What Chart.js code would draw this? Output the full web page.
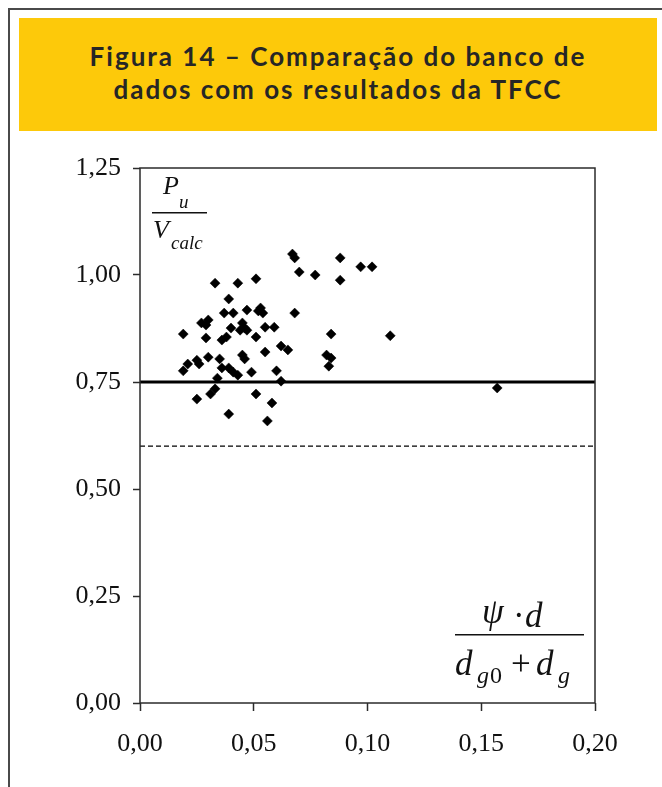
<!DOCTYPE html>
<html>
<head>
<meta charset="utf-8">
<script src="https://cdn.jsdelivr.net/npm/chart.js@4/dist/chart.umd.min.js"></script>
<style>
  html, body { margin: 0; padding: 0; background: #fff; }
  body { width: 662px; height: 787px; position: relative; overflow: hidden; }
  #frame { position: absolute; left: 8px; top: 8px; width: 700px; height: 800px; border: 2px solid #4a4a4a; box-sizing: border-box; }
  #title { position: absolute; left: 19px; top: 18px; width: 638px; height: 113px; background: #fdc90a;
    font-family: "Lato", "Open Sans", sans-serif; font-weight: 700; font-size: 26px; line-height: 33px;
    letter-spacing: 2px; color: #262626; text-align: center; box-sizing: border-box; padding-top: 22px; }
  #wrap { position: absolute; left: 0; top: 140px; width: 662px; height: 640px; }
</style>
</head>
<body>
<div id="frame"></div>
<div id="title">Figura 14 – Comparação do banco de<br>dados com os resultados da TFCC</div>
<div id="wrap"><canvas id="chart"></canvas></div>
<script>
// x = psi*d/(dg0+dg), y = Pu/Vcalc
const ratioX = [
  0.033, 0.043, 0.051, 0.039, 0.037, 0.041, 0.047, 0.052, 0.053, 0.054,
  0.027, 0.029, 0.030, 0.040, 0.045, 0.046, 0.044, 0.047, 0.019, 0.029,
  0.036, 0.038, 0.051, 0.055, 0.059, 0.062, 0.065, 0.055, 0.045, 0.046,
  0.030, 0.035, 0.025, 0.026, 0.021, 0.019, 0.036, 0.039, 0.041, 0.043,
  0.049, 0.060, 0.034, 0.062, 0.033, 0.031, 0.025, 0.051, 0.058, 0.039,
  0.056, 0.067, 0.068, 0.070, 0.077, 0.088, 0.088, 0.097, 0.102, 0.068,
  0.084, 0.110, 0.082, 0.084, 0.083, 0.157
];
const ratioY = [
  0.981, 0.981, 0.991, 0.944, 0.911, 0.911, 0.918, 0.916, 0.923, 0.911,
  0.888, 0.883, 0.895, 0.876, 0.888, 0.876, 0.871, 0.871, 0.862, 0.853,
  0.848, 0.855, 0.855, 0.878, 0.878, 0.834, 0.825, 0.820, 0.813, 0.804,
  0.808, 0.804, 0.801, 0.792, 0.792, 0.776, 0.783, 0.783, 0.773, 0.766,
  0.773, 0.776, 0.759, 0.752, 0.734, 0.722, 0.710, 0.722, 0.701, 0.675,
  0.659, 1.049, 1.040, 1.007, 1.000, 1.040, 0.988, 1.019, 1.019, 0.911,
  0.862, 0.858, 0.813, 0.806, 0.787, 0.736
];
const meanLine = 0.75;
const designLine = 0.60;
const xTicks = [0, 0.05, 0.10, 0.15, 0.20];
const yTicks = [0, 0.25, 0.50, 0.75, 1.00, 1.25];

const points = ratioX.map((x, i) => ({ x: x, y: ratioY[i] }));
const fmt = v => v.toFixed(2).replace('.', ',');

const serif = (size, italic) => (italic ? 'italic ' : '') + size + 'px "Liberation Serif"';

// frame round plot area + the two fraction labels
const decor = {
  id: 'decor',
  afterDraw(chart) {
    const { ctx, chartArea: a } = chart;
    ctx.save();
    ctx.strokeStyle = '#2b2b2b';
    ctx.lineWidth = 1.5;
    ctx.strokeRect(a.left, a.top, a.right - a.left, a.bottom - a.top);

    ctx.fillStyle = '#111';
    ctx.textBaseline = 'alphabetic';

    // Pu / Vcalc, top left
    const l = a.left, t = a.top;
    ctx.font = serif(26, true);
    ctx.fillText('P', l + 23, t + 26);
    ctx.font = serif(19, true);
    ctx.fillText('u', l + 39, t + 40);
    ctx.fillRect(l + 12, t + 44, 55, 1.5);
    ctx.font = serif(26, true);
    ctx.fillText('V', l + 13, t + 70);
    ctx.font = serif(19, true);
    ctx.fillText('calc', l + 31, t + 81);

    // psi*d / (dg0 + dg), bottom right
    const r = a.right, b = a.bottom;
    ctx.font = serif(35, true);
    ctx.fillText('\u03C8', r - 113, b - 80);
    ctx.font = serif(35, false);
    ctx.fillText('\u00B7', r - 82, b - 76);
    ctx.font = serif(35, true);
    ctx.fillText('d', r - 70, b - 76);
    ctx.fillRect(r - 140, b - 69, 129, 1.5);
    ctx.fillText('d', r - 140, b - 28);
    ctx.font = serif(24, true);
    ctx.fillText('g', r - 118, b - 20);
    ctx.font = serif(24, false);
    ctx.fillText('0', r - 105, b - 20);
    ctx.font = serif(35, false);
    ctx.fillText('+', r - 84, b - 28);
    ctx.font = serif(35, true);
    ctx.fillText('d', r - 59, b - 28);
    ctx.font = serif(24, true);
    ctx.fillText('g', r - 37, b - 20);
    ctx.restore();
  }
};

new Chart(document.getElementById('chart'), {
  type: 'scatter',
  data: {
    datasets: [
      {
        label: 'Pu/Vcalc',
        data: points,
        pointStyle: 'rectRot',
        pointRadius: 5,
        backgroundColor: '#000',
        borderColor: '#000',
        borderWidth: 0.5
      },
      {
        label: 'media',
        type: 'line',
        data: [{ x: xTicks[0], y: meanLine }, { x: xTicks[xTicks.length - 1], y: meanLine }],
        borderColor: '#000',
        borderWidth: 3,
        pointRadius: 0
      },
      {
        label: 'projeto',
        type: 'line',
        data: [{ x: xTicks[0], y: designLine }, { x: xTicks[xTicks.length - 1], y: designLine }],
        borderColor: '#000',
        borderWidth: 1.3,
        borderDash: [5, 3],
        pointRadius: 0
      }
    ]
  },
  options: {
    responsive: true,
    maintainAspectRatio: false,
    animation: false,
    layout: { padding: { top: 28, right: 67, left: 0, bottom: 0 } },
    plugins: { legend: { display: false }, tooltip: { enabled: false } },
    scales: {
      x: {
        type: 'linear',
        min: 0, max: 0.2,
        afterBuildTicks: s => { s.ticks = xTicks.map(v => ({ value: v })); },
        afterFit: s => { s.height = 77; },
        grid: { drawOnChartArea: false, drawTicks: true, tickLength: 8, tickColor: '#2b2b2b', tickWidth: 1.5 },
        border: { display: false },
        ticks: { color: '#111', padding: 18, font: { family: 'Liberation Serif', size: 26 }, callback: v => fmt(v), maxRotation: 0 }
      },
      y: {
        type: 'linear',
        min: 0, max: 1.25,
        afterBuildTicks: s => { s.ticks = yTicks.map(v => ({ value: v })); },
        afterFit: s => { s.width = 140; },
        grid: { drawOnChartArea: false, drawTicks: true, tickLength: 7, tickColor: '#2b2b2b', tickWidth: 1.5 },
        border: { display: false },
        ticks: { color: '#111', padding: 12, font: { family: 'Liberation Serif', size: 26 }, callback: v => fmt(v) }
      }
    }
  },
  plugins: [decor]
});
</script>
</body>
</html>
